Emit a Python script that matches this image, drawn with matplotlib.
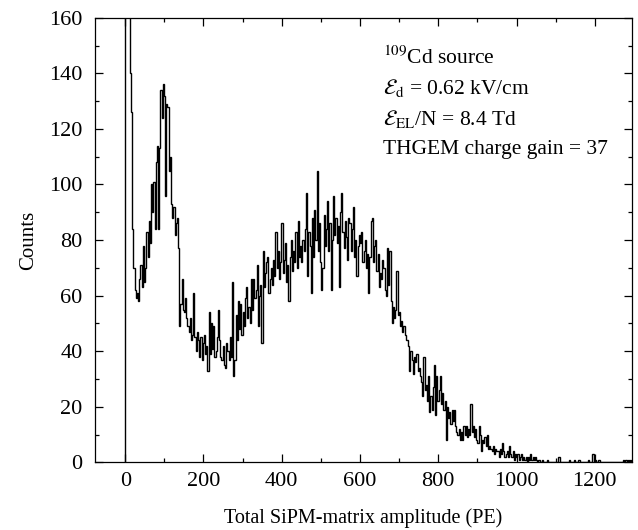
import matplotlib
matplotlib.use("Agg")
import matplotlib.pyplot as plt
import numpy as np

# Histogram: 3 PE wide bins starting at 0 PE
bin_width = 3
counts = [
    600, 300, 210, 168, 140, 126, 84, 70, 62, 59,      # 0-30
    61, 58, 66, 71, 63, 78, 65, 70, 83, 74,            # 30-60
    87, 79, 100, 90, 101, 84, 108, 114, 84, 113,       # 60-90
    134, 124, 136, 132, 96, 129, 128, 105, 110, 93,    # 90-120
    88, 92, 82, 86, 88, 77, 49, 57, 66, 55,            # 120-150
    54, 59, 52, 49, 47, 52, 44, 46, 61, 45,            # 150-180
    40, 47, 44, 38, 45, 37, 43, 46, 39, 42,            # 180-210
    33, 54, 39, 50, 41, 49, 38, 40, 45, 55,            # 210-240
    44, 38, 37, 42, 35, 34, 43, 40, 37, 45,            # 240-270
    38, 65, 31, 37, 53, 44, 58, 48, 57, 46,            # 270-300
    54, 49, 59, 63, 52, 56, 50, 66, 55, 66,            # 300-330
    59, 62, 71, 49, 60, 64, 43, 76, 63, 68,            # 330-360
    72, 74, 61, 66, 70, 64, 73, 67, 83, 70,            # 360-390
    76, 66, 72, 86, 68, 73, 79, 65, 71, 58,            # 390-420
    74, 80, 69, 76, 72, 83, 70, 87, 74, 78,            # 420-450
    72, 80, 76, 84, 97, 67, 83, 78, 61, 88,            # 450-480
    74, 91, 80, 105, 76, 86, 72, 62, 70, 89,           # 480-510
    78, 84, 94, 76, 86, 62, 80, 96, 82, 88,            # 510-540
    79, 85, 63, 90, 97, 83, 77, 87, 81, 73,            # 540-570
    88, 86, 76, 84, 92, 74, 80, 67, 78, 82,            # 570-600
    79, 83, 72, 76, 80, 70, 75, 61, 74, 87,            # 600-630
    88, 72, 78, 80, 69, 75, 63, 68, 66, 73,            # 630-660
    70, 62, 60, 77, 64, 76, 58, 50, 56, 52,            # 660-690
    55, 69, 53, 54, 49, 51, 47, 49, 46, 44,            # 690-720
    44, 42, 33, 40, 37, 32, 38, 36, 39, 33,            # 720-750
    34, 31, 29, 24, 38, 26, 28, 22, 31, 18,            # 750-780
    24, 19, 27, 35, 17, 31, 22, 26, 31, 21,            # 780-810
    25, 19, 22, 8, 20, 16, 18, 14, 19, 15,             # 810-840
    19, 13, 11, 10, 12, 8, 11, 8, 13, 10,              # 840-870
    13, 9, 12, 10, 21, 11, 13, 9, 12, 8,               # 870-900
    7, 13, 10, 4, 8, 7, 9, 6, 10, 5,                   # 900-930
    6, 5, 4, 6, 3, 5, 4, 4, 2, 5,                      # 930-960
    3, 7, 4, 2, 3, 4, 2, 6, 3, 2,                      # 960-990
    4, 1, 3, 2, 3, 1, 2, 3, 1, 2,                      # 990-1020
    1, 2, 0, 2, 1, 3, 1, 2, 1, 2,                      # 1020-1050
    1, 0, 1, 0, 0, 1, 0, 0, 0, 1,                      # 1050-1080
    0, 0, 0, 0, 0, 0, 0, 0, 0, 2,                      # 1080-1110
    0, 0, 0, 0, 0, 0, 0, 0, 1, 0,                      # 1110-1140
    0, 0, 1, 0, 0, 0, 1, 0, 0, 0,                      # 1140-1170
    0, 0, 0, 0, 1, 0, 0, 0, 3, 0,                      # 1170-1200
    1, 0, 0, 1, 0, 0, 0, 0, 0, 0,                      # 1200-1230
    0, 0, 0, 0, 0, 0, 0, 0, 0, 0,                      # 1230-1260
    0, 0, 0, 0, 1, 0, 1, 0, 1, 0,                      # 1260-1290
    1, 0, 1,                                           # 1290-1299
]
x_ticks = [0, 200, 400, 600, 800, 1000, 1200]
y_ticks = [0, 20, 40, 60, 80, 100, 120, 140, 160]
info_lines = [
    r"$^{\rm 109}$Cd source",
    r"$\mathcal{E}_{\rm d}$ = 0.62 kV/cm",
    r"$\mathcal{E}_{\rm EL}$/N = 8.4 Td",
    "THGEM charge gain = 37",
]

plt.rcParams["font.family"] = ["Liberation Serif", "DejaVu Serif"]
plt.rcParams["mathtext.fontset"] = "stix"

edges = np.arange(len(counts) + 1) * bin_width

fig = plt.figure(figsize=(6.38, 5.30), dpi=100)
ax = fig.add_axes([0.149, 0.1274, 0.8416, 0.8392])

ax.stairs(counts, edges, baseline=0, color="black", linewidth=1.0)

ax.set_xlim(-77, 1295)
ax.set_ylim(0, 160)
ax.set_xticks(x_ticks)
ax.set_yticks(y_ticks)
ax.xaxis.set_minor_locator(matplotlib.ticker.MultipleLocator(100))
ax.yaxis.set_minor_locator(matplotlib.ticker.MultipleLocator(10))
ax.tick_params(which="both", direction="in", top=True, right=True,
               labelsize=16, width=0.9)
ax.tick_params(which="major", length=6)
ax.tick_params(which="minor", length=3)
ax.tick_params(axis="x", pad=7)
ax.tick_params(axis="y", pad=9)
for spine in ax.spines.values():
    spine.set_linewidth(0.9)

ax.set_xlabel("Total SiPM-matrix amplitude (PE)", fontsize=14.5, labelpad=12)
ax.set_ylabel("Counts", fontsize=15, labelpad=8)

for i, line in enumerate(info_lines):
    ax.text(0.536, 0.911 - i * 0.069, line, transform=ax.transAxes,
            fontsize=15.5, ha="left", va="center")

fig.savefig("out.png", dpi=100)
